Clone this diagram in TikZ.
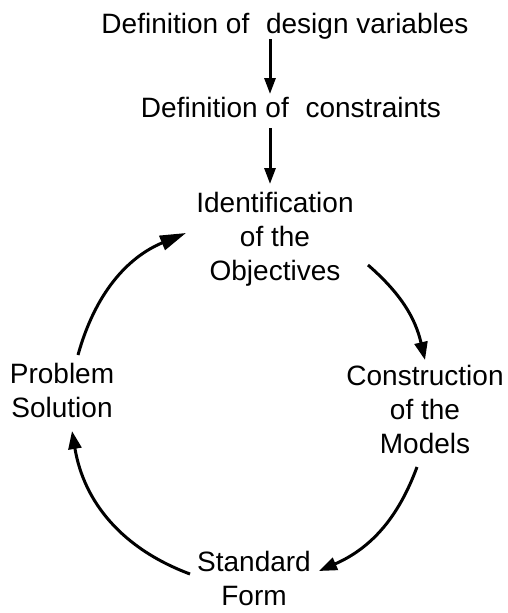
\documentclass[tikz,border=0pt]{standalone}
\usepackage{fontspec}
\setmainfont{Liberation Sans}
\usetikzlibrary{arrows.meta}
\begin{document}
\begin{tikzpicture}[x=1pt,y=-1pt,
  lbl/.style={font=\fontsize{28}{34}\selectfont, align=center, inner sep=0pt, anchor=base},
  vflow/.style={line width=3pt, -{Triangle[length=16pt,width=11pt]}},
  cyc/.style={line width=3pt, -{Triangle[length=18pt,width=13pt]}},
  cycbig/.style={line width=3pt, -{Triangle[length=26pt,width=15pt]}}]
\path[use as bounding box] (0,0) rectangle (508,613);
% texts (anchor = baseline of the last line)
\node[lbl] (dv) at (285,33) {Definition of\hspace{0.6em}design variables};
\node[lbl] (dc) at (291,117) {Definition of\hspace{0.6em}constraints};
\node[lbl] (io) at (275,280) {Identification\\of the\\Objectives};
\node[lbl] (cm) at (425,453) {Construction\\of the\\Models};
\node[lbl] (sf) at (254,605) {Standard\\Form};
\node[lbl] (ps) at (62,417) {Problem\\Solution};
% connector ends
\coordinate (v1s) at (270,39);  \coordinate (v1e) at (270,94);
\coordinate (v2s) at (270,128); \coordinate (v2e) at (270,184);
\coordinate (a1s) at (78,355);  \coordinate (a1e) at (186,233);
\coordinate (a2s) at (368,265); \coordinate (a2e) at (425,360);
\coordinate (a3s) at (417,467); \coordinate (a3e) at (319,571);
\coordinate (a4s) at (190,574); \coordinate (a4e) at (72,431);
% connectors
\draw[vflow] (v1s) -- (v1e);
\draw[vflow] (v2s) -- (v2e);
\draw[cycbig] (a1s) to[bend left=26] (a1e);
\draw[cyc] (a2s) to[bend left=18] (a2e);
\draw[cyc] (a3s) to[bend left=23] (a3e);
\draw[cyc] (a4s) to[bend left=30] (a4e);
\end{tikzpicture}
\end{document}
